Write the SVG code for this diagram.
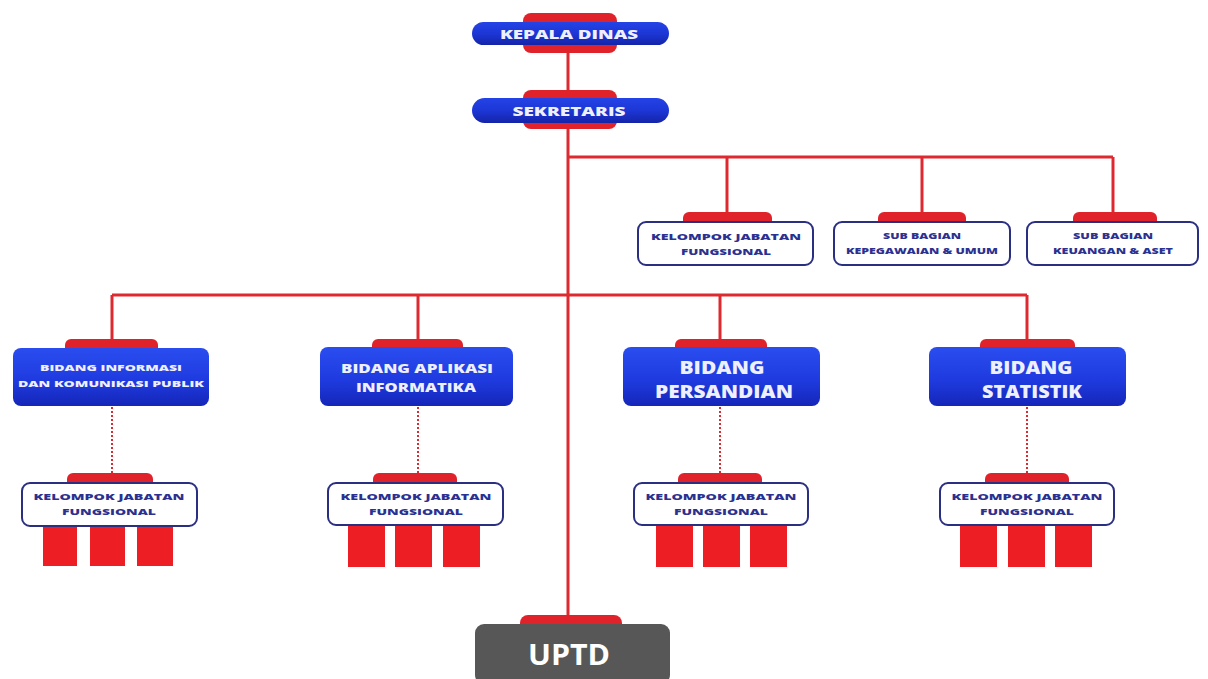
<svg xmlns="http://www.w3.org/2000/svg" width="1208" height="679" viewBox="0 0 1208 679">
<defs>
<linearGradient id="blue" x1="0" y1="0" x2="0" y2="1">
<stop offset="0" stop-color="#2a4df0"/>
<stop offset="0.55" stop-color="#1f3be0"/>
<stop offset="1" stop-color="#1526b8"/>
</linearGradient>
<linearGradient id="pill" x1="0" y1="0" x2="0" y2="1">
<stop offset="0" stop-color="#2443e6"/>
<stop offset="0.5" stop-color="#1d36d6"/>
<stop offset="1" stop-color="#1424a8"/>
</linearGradient>
</defs>
<style>
.tab{fill:#e0232b}
.line{stroke:#dc2a30;stroke-width:3;fill:none}
.dot{stroke:#dc2a30;stroke-width:2;stroke-dasharray:2 2;fill:none}
.pill{fill:url(#pill)}
.bid{fill:url(#blue)}
.out{fill:#ffffff;stroke:#2b2f82;stroke-width:2}
.sq{fill:#ee1f24}
.wt{font-family:"Open Sans","Liberation Sans",sans-serif;font-weight:800;fill:#eef0ff;text-anchor:middle}
.nt{font-family:"Open Sans","Liberation Sans",sans-serif;font-weight:800;fill:#2b3190;text-anchor:middle}
</style>
<rect width="1208" height="679" fill="#ffffff"/>
<g id="connectors">
<line class="line" x1="568" y1="45" x2="568" y2="622"/>
<polyline class="line" points="568,157 1113,157"/>
<line class="line" x1="727" y1="157" x2="727" y2="215"/>
<line class="line" x1="922" y1="157" x2="922" y2="215"/>
<line class="line" x1="1113" y1="157" x2="1113" y2="215"/>
<line class="line" x1="112" y1="295" x2="1027" y2="295"/>
<line class="line" x1="112" y1="295" x2="112" y2="342"/>
<line class="line" x1="418" y1="295" x2="418" y2="342"/>
<line class="line" x1="720" y1="295" x2="720" y2="342"/>
<line class="line" x1="1027" y1="295" x2="1027" y2="342"/>
<line class="dot" x1="112" y1="407" x2="112" y2="474"/>
<line class="dot" x1="418" y1="407" x2="418" y2="474"/>
<line class="dot" x1="720" y1="407" x2="720" y2="474"/>
<line class="dot" x1="1027" y1="407" x2="1027" y2="474"/>
</g>
<g id="kepala-dinas">
<rect class="tab" x="523" y="13" width="94" height="40" rx="8"/>
<rect class="pill" x="472" y="22" width="197" height="23" rx="11.5"/>
<text class="wt" x="569" y="39" font-size="13" textLength="138" lengthAdjust="spacingAndGlyphs">KEPALA DINAS</text>
</g>
<g id="sekretaris">
<rect class="tab" x="523" y="90" width="94" height="39" rx="8"/>
<rect class="pill" x="472" y="98" width="197" height="25" rx="12.5"/>
<text class="wt" x="569" y="116" font-size="13" textLength="113" lengthAdjust="spacingAndGlyphs">SEKRETARIS</text>
</g>
<g id="kjf-sekretariat">
<rect class="tab" x="683" y="212" width="89" height="20" rx="6"/>
<rect class="out" x="638" y="222" width="175" height="43" rx="8"/>
<text class="nt" x="726" y="240" font-size="9.5" textLength="150" lengthAdjust="spacingAndGlyphs">KELOMPOK JABATAN</text>
<text class="nt" x="726" y="255" font-size="9.5" textLength="90" lengthAdjust="spacingAndGlyphs">FUNGSIONAL</text>
</g>
<g id="subbag-kepegawaian">
<rect class="tab" x="878" y="212" width="88" height="20" rx="6"/>
<rect class="out" x="834" y="222" width="176" height="43" rx="8"/>
<text class="nt" x="922" y="239" font-size="8.5" textLength="78" lengthAdjust="spacingAndGlyphs">SUB BAGIAN</text>
<text class="nt" x="922" y="254" font-size="8.5" textLength="152" lengthAdjust="spacingAndGlyphs">KEPEGAWAIAN &amp; UMUM</text>
</g>
<g id="subbag-keuangan">
<rect class="tab" x="1073" y="212" width="84" height="20" rx="6"/>
<rect class="out" x="1027" y="222" width="171" height="43" rx="8"/>
<text class="nt" x="1113" y="239" font-size="8.5" textLength="80" lengthAdjust="spacingAndGlyphs">SUB BAGIAN</text>
<text class="nt" x="1113" y="254" font-size="8.5" textLength="120" lengthAdjust="spacingAndGlyphs">KEUANGAN &amp; ASET</text>
</g>
<g id="bidang-ikp">
<rect class="tab" x="65" y="339" width="93" height="20" rx="6"/>
<rect class="bid" x="13" y="348" width="196" height="58" rx="8"/>
<text class="wt" x="111" y="371" font-size="9.5" textLength="142" lengthAdjust="spacingAndGlyphs">BIDANG INFORMASI</text>
<text class="wt" x="111" y="387" font-size="9.5" textLength="186" lengthAdjust="spacingAndGlyphs">DAN KOMUNIKASI PUBLIK</text>
</g>
<g id="bidang-aplikasi">
<rect class="tab" x="372" y="339" width="91" height="20" rx="6"/>
<rect class="bid" x="320" y="347" width="193" height="59" rx="8"/>
<text class="wt" x="417" y="373" font-size="12.5" textLength="152" lengthAdjust="spacingAndGlyphs">BIDANG APLIKASI</text>
<text class="wt" x="416" y="392" font-size="12.5" textLength="120" lengthAdjust="spacingAndGlyphs">INFORMATIKA</text>
</g>
<g id="bidang-persandian">
<rect class="tab" x="675" y="339" width="92" height="20" rx="6"/>
<rect class="bid" x="623" y="347" width="197" height="59" rx="8"/>
<text class="wt" x="722" y="374" font-size="17" textLength="85" lengthAdjust="spacingAndGlyphs">BIDANG</text>
<text class="wt" x="724" y="398" font-size="17" textLength="138" lengthAdjust="spacingAndGlyphs">PERSANDIAN</text>
</g>
<g id="bidang-statistik">
<rect class="tab" x="980" y="339" width="95" height="20" rx="6"/>
<rect class="bid" x="929" y="347" width="197" height="59" rx="8"/>
<text class="wt" x="1031" y="374" font-size="17" textLength="83" lengthAdjust="spacingAndGlyphs">BIDANG</text>
<text class="wt" x="1032" y="398" font-size="17" textLength="100" lengthAdjust="spacingAndGlyphs">STATISTIK</text>
</g>
<g id="kjf-ikp">
<rect class="tab" x="67" y="473" width="86" height="20" rx="6"/>
<rect class="sq" x="43" y="526" width="34" height="40"/>
<rect class="sq" x="90" y="526" width="35" height="40"/>
<rect class="sq" x="137" y="526" width="36" height="40"/>
<rect class="out" x="22" y="483" width="175" height="43" rx="8"/>
<text class="nt" x="109" y="500" font-size="9.5" textLength="151" lengthAdjust="spacingAndGlyphs">KELOMPOK JABATAN</text>
<text class="nt" x="109" y="515" font-size="9.5" textLength="94" lengthAdjust="spacingAndGlyphs">FUNGSIONAL</text>
</g>
<g id="kjf-aplikasi">
<rect class="tab" x="373" y="473" width="84" height="20" rx="6"/>
<rect class="sq" x="348" y="526" width="37" height="41"/>
<rect class="sq" x="395" y="526" width="37" height="41"/>
<rect class="sq" x="443" y="526" width="37" height="41"/>
<rect class="out" x="328" y="483" width="175" height="42" rx="8"/>
<text class="nt" x="416" y="500" font-size="9.5" textLength="151" lengthAdjust="spacingAndGlyphs">KELOMPOK JABATAN</text>
<text class="nt" x="416" y="515" font-size="9.5" textLength="94" lengthAdjust="spacingAndGlyphs">FUNGSIONAL</text>
</g>
<g id="kjf-persandian">
<rect class="tab" x="678" y="473" width="84" height="20" rx="6"/>
<rect class="sq" x="656" y="526" width="37" height="41"/>
<rect class="sq" x="703" y="526" width="37" height="41"/>
<rect class="sq" x="750" y="526" width="37" height="41"/>
<rect class="out" x="634" y="483" width="174" height="42" rx="8"/>
<text class="nt" x="721" y="500" font-size="9.5" textLength="151" lengthAdjust="spacingAndGlyphs">KELOMPOK JABATAN</text>
<text class="nt" x="721" y="515" font-size="9.5" textLength="94" lengthAdjust="spacingAndGlyphs">FUNGSIONAL</text>
</g>
<g id="kjf-statistik">
<rect class="tab" x="985" y="473" width="84" height="20" rx="6"/>
<rect class="sq" x="960" y="526" width="37" height="41"/>
<rect class="sq" x="1008" y="526" width="37" height="41"/>
<rect class="sq" x="1055" y="526" width="37" height="41"/>
<rect class="out" x="940" y="483" width="174" height="42" rx="8"/>
<text class="nt" x="1027" y="500" font-size="9.5" textLength="151" lengthAdjust="spacingAndGlyphs">KELOMPOK JABATAN</text>
<text class="nt" x="1027" y="515" font-size="9.5" textLength="94" lengthAdjust="spacingAndGlyphs">FUNGSIONAL</text>
</g>
<g id="uptd">
<rect class="tab" x="520" y="615" width="102" height="30" rx="8"/>
<rect x="475" y="624" width="195" height="60" rx="9" fill="#575757"/>
<text x="569" y="665" font-family="'Open Sans','Liberation Sans',sans-serif" font-weight="700" font-size="29" fill="#ffffff" text-anchor="middle" textLength="82" lengthAdjust="spacingAndGlyphs">UPTD</text>
</g>
</svg>
